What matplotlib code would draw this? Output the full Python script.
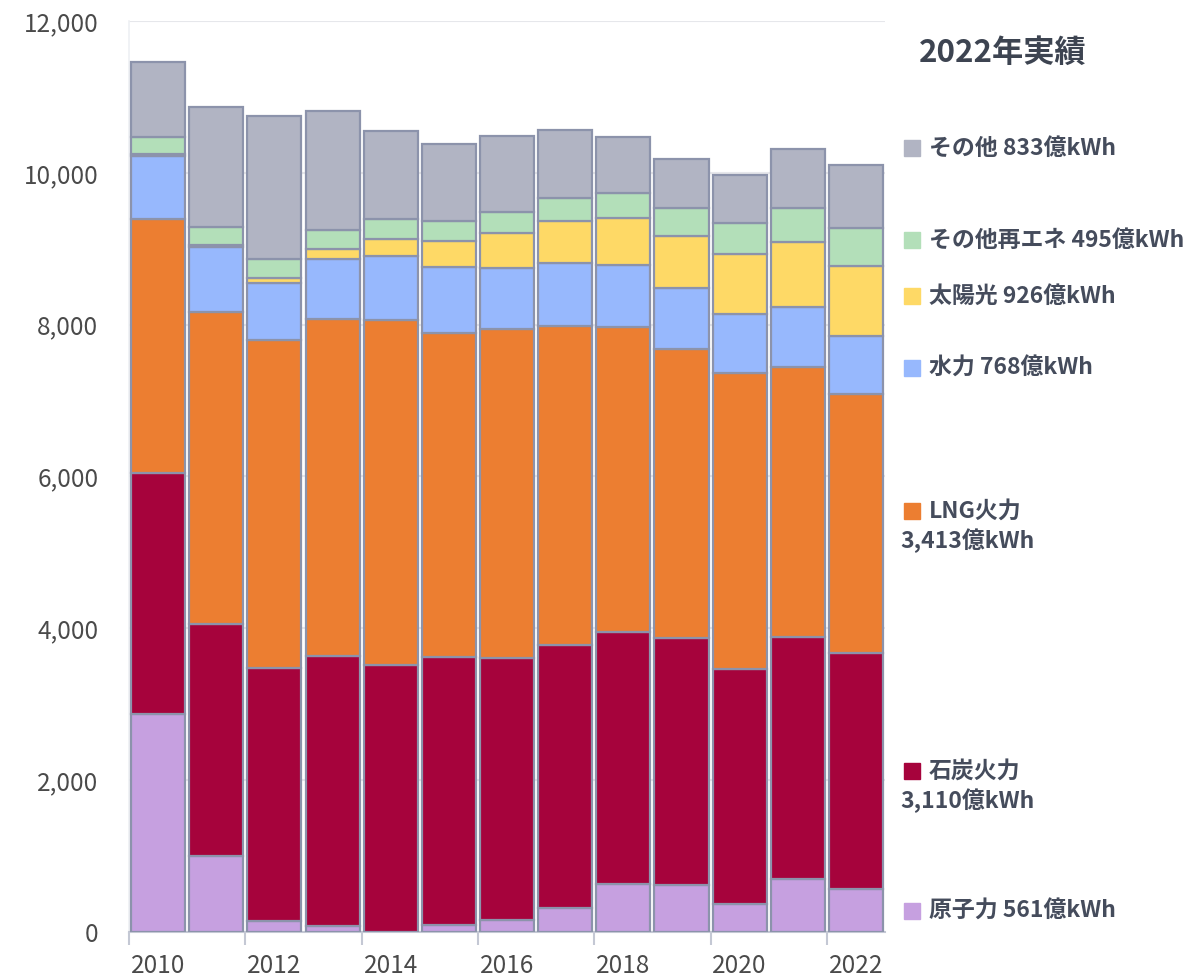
import matplotlib.pyplot as plt
import matplotlib.transforms as mtransforms
import numpy as np

plt.rcParams['font.family'] = ['Noto Sans CJK JP', 'DejaVu Sans']

# 発電量（億kWh）
years = [2010, 2011, 2012, 2013, 2014, 2015, 2016, 2017, 2018, 2019, 2020, 2021, 2022]
nuclear = [2868, 1005, 149, 79, 0, 88, 158, 312, 632, 619, 373, 694, 561]
coal = [3178, 3052, 3328, 3556, 3517, 3538, 3447, 3468, 3316, 3258, 3095, 3192, 3110]
lng = [3346, 4106, 4317, 4439, 4544, 4260, 4344, 4202, 4021, 3806, 3891, 3552, 3413]
hydro = [834, 856, 759, 795, 843, 869, 793, 834, 813, 804, 785, 791, 768]
solar = [22, 30, 65, 124, 224, 347, 461, 549, 623, 685, 787, 856, 926]
other_re = [228, 241, 247, 254, 264, 263, 278, 307, 333, 361, 404, 448, 495]
other = [988, 1581, 1883, 1571, 1163, 1011, 1004, 892, 734, 649, 640, 777, 833]

series = [nuclear, coal, lng, hydro, solar, other_re, other]
colors = ["#c6a0e0", "#a6033c", "#ec7e31", "#97b8fd", "#fed966", "#b3dfb9", "#b1b4c3"]

# 凡例ラベル（右側）
labels = ["原子力 561億kWh", "石炭火力\n3,110億kWh", "LNG火力\n3,413億kWh",
          "水力 768億kWh", "太陽光 926億kWh", "その他再エネ 495億kWh", "その他 833億kWh"]
label_y = [277, 2121, 5545, 7429, 8377, 9115, 10327]

fig = plt.figure(figsize=(11.97, 9.8), dpi=100)
ax = fig.add_axes([0.1078, 0.049, 0.6316, 0.9296])

x = np.arange(len(years))
bottom = np.zeros(len(years))
for vals, c in zip(series, colors):
    ax.bar(x, vals, bottom=bottom, width=0.93, color=c,
           edgecolor="#8c93ab", linewidth=1.6, zorder=3)
    bottom += np.array(vals)

ax.set_xlim(-0.5, 12.5)
ax.set_ylim(0, 12000)
ax.set_yticks(np.arange(0, 12001, 2000))
ax.set_yticklabels([f"{v:,}" for v in range(0, 12001, 2000)])
ax.yaxis.grid(True, color="#e6e7eb", linewidth=1.5, zorder=0)
ax.tick_params(axis="y", length=0, pad=22, labelsize=17.5, labelcolor="#4a4a4a")

ax.set_xticks(x[::2])
ax.set_xticklabels([str(y) for y in years[::2]])
ax.set_xticks(np.arange(-0.5, 12, 2), minor=True)
ax.tick_params(axis="x", which="major", length=0, pad=15, labelsize=17.5, labelcolor="#4a4a4a")
ax.tick_params(axis="x", which="minor", length=9, width=1.5, color="#c4c8d4")

for s in ["top", "right"]:
    ax.spines[s].set_visible(False)
ax.spines["left"].set_color("#eef0f3")
ax.spines["left"].set_linewidth(1.2)
ax.spines["bottom"].set_color("#c4c8d4")
ax.spines["bottom"].set_linewidth(1.5)

# 右側の凡例
trans = mtransforms.blended_transform_factory(ax.transAxes, ax.transData)
for lab, ly, c in zip(labels, label_y, colors):
    ax.plot([1.036], [ly], marker="s", markersize=12, color=c, transform=trans,
            clip_on=False, linestyle="none")
    lines = lab.split("\n")
    ax.text(1.058, ly, lines[0], transform=trans, fontsize=16.5, fontweight="bold",
            color="#454c5c", va="center", ha="left")
    if len(lines) > 1:
        ax.text(1.02, ly - 395, lines[1], transform=trans, fontsize=16.5,
                fontweight="bold", color="#454c5c", va="center", ha="left")

fig.text(0.768, 0.946, "2022年実績", fontsize=22.5, fontweight="bold",
         color="#3d4451", ha="left", va="center")

fig.savefig("out.png", dpi=100)
